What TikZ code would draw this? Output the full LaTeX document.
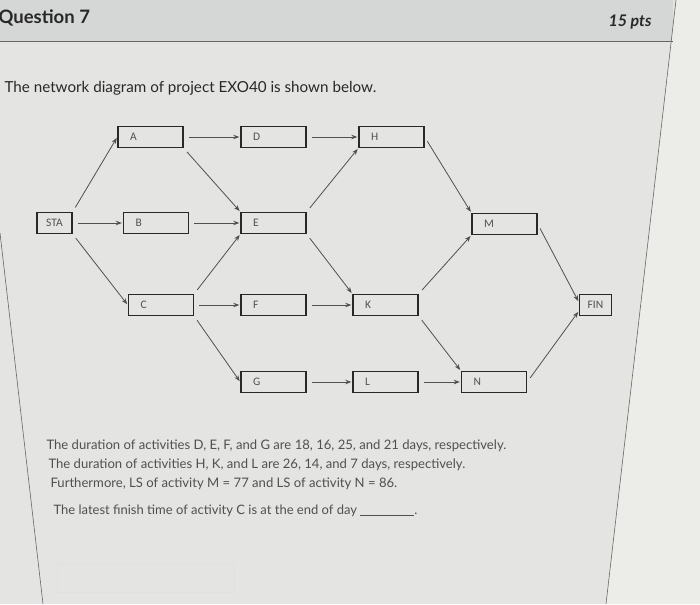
\documentclass[tikz,border=0pt]{standalone}
\usepackage{fontspec}
\setmainfont{Lato}
\newfontfamily\boxfont{Carlito}
\usetikzlibrary{arrows.meta,positioning}
\definecolor{screen}{RGB}{228,229,226}
\definecolor{band}{RGB}{213,214,214}
\definecolor{outside}{RGB}{236,236,233}
\definecolor{ink}{RGB}{40,40,40}
\definecolor{wire}{RGB}{80,80,80}
\definecolor{greytext}{RGB}{80,80,80}
\tikzset{
	>={Stealth[length=6pt,width=4.5pt]}, % small filled heads
	on grid,
	activity/.style={draw=ink, line width=1.4pt, minimum height=21pt,
		inner xsep=12pt, text width=41pt, align=left,
		font=\boxfont\fontsize{11.5}{13}\selectfont, text=greytext},
	terminal/.style={draw=ink, line width=1.4pt, minimum height=21pt,
		inner xsep=3pt, font=\boxfont\fontsize{11.5}{13}\selectfont, text=greytext},
	link/.style={->, draw=wire, line width=0.8pt, shorten >=1pt, shorten <=5pt},
	frame/.style={draw=black!60, line width=0.6pt},
}

\begin{document}
\begin{tikzpicture}[x=1pt, y=-1pt]
	\useasboundingbox (0,0) rectangle (700,604);
	% screen background
	\fill[screen] (0,0) rectangle (700,604);
	\fill[band] (0,0) rectangle (673,41);
	\fill[outside] (676,0) -- (700,0) -- (700,604) -- (606,604) -- cycle;
	\draw[frame] (0,41) -- (673,41);
	\draw[frame] (676,0) -- (606,604);
	\draw[frame] (0,233) -- (43,604);
	\draw[black!12] (57,563) rectangle (234,592);

	% header and question text
	\node[anchor=base west, font=\bfseries\fontsize{18.5}{22}\selectfont, text=ink] (title) at (-5,24) {Question 7};
	\node[anchor=base east, font=\bfseries\itshape\fontsize{16}{19}\selectfont, text=ink] (points) at (655,27) {15 pts};
	\node[anchor=base west, font=\fontsize{15.2}{18}\selectfont, text=ink] (intro) at (1,93) {The network diagram of project EXO40 is shown below.};

	% network
	\node[terminal, minimum width=35pt] (STA) at (54.5,223) {STA};
	\node[activity, right=101.5pt of STA] (B) {B};
	\node[activity, above right=86pt and 96pt of STA] (A) {A};
	\node[activity, below right=82pt and 106.5pt of STA] (C) {C};
	\node[activity, right=117.5pt of B] (E) {E};
	\node[activity, above=86pt of E] (D) {D};
	\node[activity, below=82pt of E] (F) {F};
	\node[activity, below=77pt of F] (G) {G};
	\node[activity, right=118pt of D] (H) {H};
	\node[activity, right=112pt of F] (K) {K};
	\node[activity, below=77pt of K] (L) {L};
	\node[activity, above right=81pt and 119pt of K] (M) {M};
	\node[activity, below right=77pt and 108.5pt of K] (N) {N};
	\node[terminal, minimum width=32pt, below right=81pt and 91pt of M] (FIN) {FIN};

	\draw[link] (STA.north east) -- (A.west);
	\draw[link] (STA.east) -- (B.west);
	\draw[link] (STA.south east) -- (C.west);
	\draw[link] (A.east) -- (D.west);
	\draw[link] (A.south east) -- (E.north west);
	\draw[link] (B.east) -- (E.west);
	\draw[link] (C.north east) -- (E.south west);
	\draw[link] (C.east) -- (F.west);
	\draw[link] (C.south east) -- (G.west);
	\draw[link] (D.east) -- (H.west);
	\draw[link] (E.north east) -- (H.south west);
	\draw[link] (E.south east) -- (K.north west);
	\draw[link] (F.east) -- (K.west);
	\draw[link] (G.east) -- (L.west);
	\draw[link] (H.east) -- (M.north west);
	\draw[link] (K.north east) -- (M.south west);
	\draw[link] (K.south east) -- (N.north west);
	\draw[link] (L.east) -- (N.west);
	\draw[link] (M.east) -- (FIN.170);
	\draw[link] (N.east) -- (FIN.200);

	% data below the network
	\node[anchor=base west, font=\fontsize{13.1}{15}\selectfont, text=greytext] (durA) at (43,449) {The duration of activities D, E, F, and G are 18, 16, 25, and 21 days, respectively.};
	\node[anchor=base west, font=\fontsize{13.1}{15}\selectfont, text=greytext] (durB) at (45,468) {The duration of activities H, K, and L are 26, 14, and 7 days, respectively.};
	\node[anchor=base west, font=\fontsize{13.1}{15}\selectfont, text=greytext] (late) at (47,487) {Furthermore, LS of activity M = 77 and LS of activity N = 86.};
	\node[anchor=base west, font=\fontsize{13}{15}\selectfont, text=greytext] (ask) at (50,514) {The latest finish time of activity C is at the end of day \underline{\hspace{54pt}}.};
\end{tikzpicture}
\end{document}
